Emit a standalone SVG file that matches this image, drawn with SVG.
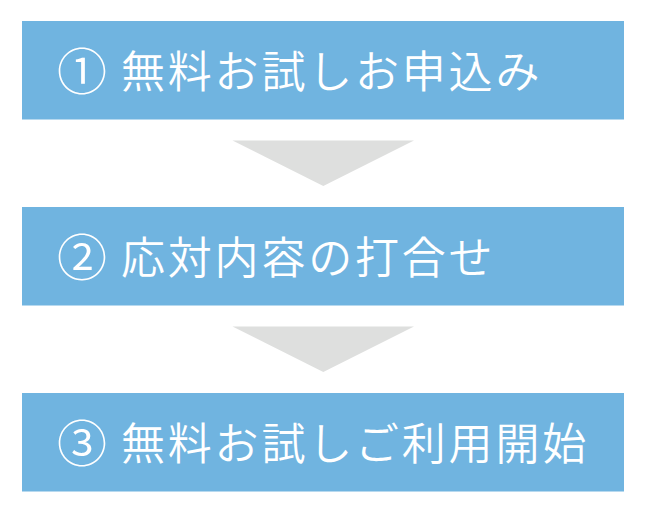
<svg xmlns="http://www.w3.org/2000/svg" width="650" height="508" viewBox="0 0 650 508">
<style>
.box{fill:#70B4E0}
.lbl{font-family:"Noto Sans CJK JP","Noto Sans",sans-serif;font-size:44px;font-weight:350;letter-spacing:2.8px;fill:#FFFFFF}
.num{font-size:50px;letter-spacing:0}
.arrow{fill:#DEDFDE}
</style>
<rect width="650" height="508" fill="#FFFFFF"/>
<g id="step1">
<rect class="box" x="22" y="21" width="602" height="98.5"/>
<text class="lbl" y="87.5"><tspan class="num" x="57" y="89.5">①</tspan><tspan x="121" y="87.5">無料お試しお申込み</tspan></text>
</g>
<g id="step2">
<rect class="box" x="22" y="207" width="602" height="98.5"/>
<text class="lbl" y="273.5"><tspan class="num" x="57" y="275.5">②</tspan><tspan x="121" y="273.5">応対内容の打合せ</tspan></text>
</g>
<g id="step3">
<rect class="box" x="22" y="393" width="602" height="98.5"/>
<text class="lbl" y="459.5"><tspan class="num" x="57" y="461.5">③</tspan><tspan x="121" y="459.5">無料お試しご利用開始</tspan></text>
</g>
<g id="connectors">
<polygon class="arrow" points="232.5,140.5 414,140.5 323.3,186"/>
<polygon class="arrow" points="232.5,326.5 414,326.5 323.3,372"/>
</g>
</svg>
